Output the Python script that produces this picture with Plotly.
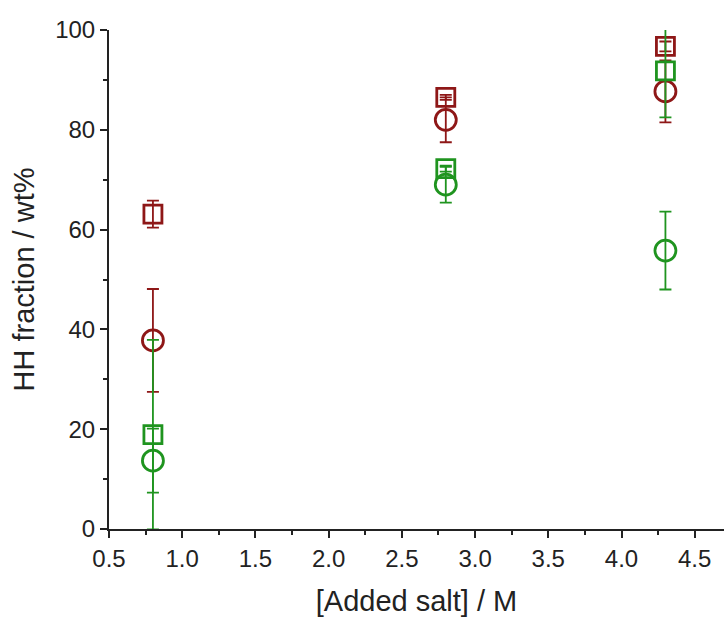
import plotly.graph_objects as go

salt = [0.8, 2.8, 4.3]

red_square = [63.1, 86.5, 96.7]
red_square_err = [2.7, 0.5, 1.0]
red_circle = [37.8, 82.0, 87.7]
red_circle_err = [10.3, 4.5, 6.2]

green_square = [18.9, 72.2, 91.8]
green_square_err = [19.0, 0.6, 9.3]
green_circle = [13.7, 69.0, 55.8]
green_circle_err = [6.4, 3.6, 7.8]

RED = "#8e1717"
GREEN = "#1f941f"

fig = go.Figure()

def add(y, err, color, symbol, size):
    fig.add_trace(go.Scatter(
        x=salt, y=y, mode="markers",
        marker=dict(symbol=symbol, size=size, color=color,
                    line=dict(color=color, width=2.8)),
        error_y=dict(type="data", array=err, visible=True, color=color,
                     thickness=1.8, width=6),
        cliponaxis=False, showlegend=False))

add(red_square, red_square_err, RED, "square-open", 18)
add(red_circle, red_circle_err, RED, "circle-open", 21)
add(green_square, green_square_err, GREEN, "square-open", 18)
add(green_circle, green_circle_err, GREEN, "circle-open", 21)

font = dict(family="Liberation Sans, Arial, sans-serif", color="#222222")

fig.update_layout(
    width=726, height=617,
    margin=dict(l=109, r=2, t=30, b=88),
    paper_bgcolor="white", plot_bgcolor="white",
    font=dict(**font, size=24),
    xaxis=dict(
        range=[0.5, 4.7], dtick=0.5, tick0=0.5, tickformat=".1f",
        showgrid=False, zeroline=False,
        showline=True, linecolor="#222222", linewidth=2,
        ticks="outside", ticklen=7, tickwidth=2, tickcolor="#222222",
        minor=dict(dtick=0.25, tick0=0.5, ticks="outside", ticklen=4,
                   tickwidth=2, tickcolor="#222222"),
        title=dict(text="[Added salt] / M", font=dict(size=29), standoff=20),
        tickfont=dict(size=24),
    ),
    yaxis=dict(
        range=[0, 100], dtick=20,
        showgrid=False, zeroline=False,
        showline=True, linecolor="#222222", linewidth=2,
        ticks="outside", ticklen=7, tickwidth=2, tickcolor="#222222",
        minor=dict(dtick=10, ticks="outside", ticklen=4,
                   tickwidth=2, tickcolor="#222222"),
        title=dict(text="HH fraction / wt%", font=dict(size=29), standoff=12),
        tickfont=dict(size=24),
    ),
)

fig.write_html("out.html")
